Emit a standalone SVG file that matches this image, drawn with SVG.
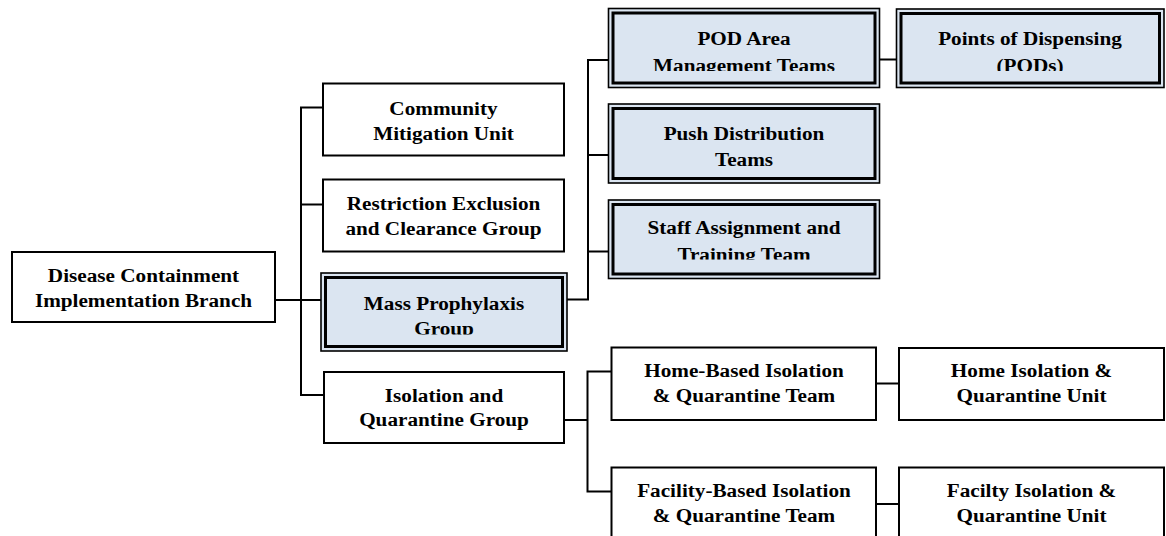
<svg xmlns="http://www.w3.org/2000/svg" width="1166" height="536" viewBox="0 0 1166 536">
<style>
.box{fill:#ffffff;stroke:#000000;stroke-width:2}
.dout{fill:#dbe5f1;stroke:#000000;stroke-width:1.6}
.din{fill:#dbe5f1;stroke:#000000;stroke-width:3}
.t{font-family:"Liberation Serif","Times New Roman",serif;font-weight:bold;font-size:18.67px;text-anchor:middle;fill:#000000}
.c{fill:none;stroke:#000000;stroke-width:2}
</style>
<defs>
<clipPath id="clipMass"><rect x="321" y="273" width="246" height="61.5"/></clipPath>
<clipPath id="clipPOD"><rect x="608" y="8" width="272" height="63"/></clipPath>
<clipPath id="clipPODs"><rect x="896" y="9" width="268" height="62"/></clipPath>
<clipPath id="clipStaff"><rect x="608" y="200" width="272" height="59.5"/></clipPath>
</defs>
<rect width="1166" height="536" fill="#ffffff"/>
<g id="connectors">
<polyline class="c" points="323,107.5 301,107.5 301,395 324,395"/>
<line class="c" x1="301" y1="204.5" x2="323" y2="204.5"/>
<line class="c" x1="275" y1="300" x2="321" y2="300"/>
<polyline class="c" points="608,60 588,60 588,299.5 567,299.5"/>
<line class="c" x1="588" y1="155" x2="608" y2="155"/>
<line class="c" x1="588" y1="251.5" x2="608" y2="251.5"/>
<line class="c" x1="879" y1="59.5" x2="896" y2="59.5"/>
<polyline class="c" points="611.5,371.5 587.5,371.5 587.5,491.5 611.5,491.5"/>
<line class="c" x1="564" y1="420" x2="587.5" y2="420"/>
<line class="c" x1="876" y1="383.5" x2="899" y2="383.5"/>
<line class="c" x1="876" y1="504" x2="899" y2="504"/>
</g>
<g id="root">
<rect class="box" x="12" y="252" width="263" height="70"/>
<text class="t" transform="translate(143.5 282) scale(1.135 1)">Disease Containment</text>
<text class="t" transform="translate(143.5 307) scale(1.135 1)">Implementation Branch</text>
</g>
<g id="community">
<rect class="box" x="323" y="83.5" width="241" height="72"/>
<text class="t" transform="translate(443.5 114.5) scale(1.135 1)">Community</text>
<text class="t" transform="translate(443.5 139.5) scale(1.135 1)">Mitigation Unit</text>
</g>
<g id="restriction">
<rect class="box" x="323" y="179.5" width="241" height="72"/>
<text class="t" transform="translate(443.5 209.5) scale(1.135 1)">Restriction Exclusion</text>
<text class="t" transform="translate(443.5 234.5) scale(1.135 1)">and Clearance Group</text>
</g>
<g id="mass">
<rect class="dout" x="321" y="273" width="246" height="78"/>
<rect class="din" x="325.5" y="277.5" width="237" height="69"/>
<g clip-path="url(#clipMass)">
<text class="t" transform="translate(444 309.5) scale(1.135 1)">Mass Prophylaxis</text>
<text class="t" transform="translate(444 335) scale(1.135 1)">Group</text>
</g>
</g>
<g id="isolation">
<rect class="box" x="324" y="372" width="240" height="71"/>
<text class="t" transform="translate(444 401.5) scale(1.135 1)">Isolation and</text>
<text class="t" transform="translate(444 426) scale(1.135 1)">Quarantine Group</text>
</g>
<g id="pod-area">
<rect class="dout" x="608.5" y="8.5" width="271" height="79"/>
<rect class="din" x="613" y="13" width="262" height="70"/>
<g clip-path="url(#clipPOD)">
<text class="t" transform="translate(744 45) scale(1.135 1)">POD Area</text>
<text class="t" transform="translate(744 71.5) scale(1.135 1)">Management Teams</text>
</g>
</g>
<g id="pods">
<rect class="dout" x="896.5" y="9" width="267.5" height="78.5"/>
<rect class="din" x="901" y="13.5" width="258.5" height="69.5"/>
<g clip-path="url(#clipPODs)">
<text class="t" transform="translate(1030 45) scale(1.135 1)">Points of Dispensing</text>
<text class="t" transform="translate(1030 71.5) scale(1.135 1)">(PODs)</text>
</g>
</g>
<g id="push">
<rect class="dout" x="608.5" y="104" width="271" height="79"/>
<rect class="din" x="613" y="108.5" width="262" height="70"/>
<text class="t" transform="translate(744 140) scale(1.135 1)">Push Distribution</text>
<text class="t" transform="translate(744 166) scale(1.135 1)">Teams</text>
</g>
<g id="staff">
<rect class="dout" x="608.5" y="200" width="271" height="78.5"/>
<rect class="din" x="613" y="204.5" width="262" height="69.5"/>
<g clip-path="url(#clipStaff)">
<text class="t" transform="translate(744 234) scale(1.135 1)">Staff Assignment and</text>
<text class="t" transform="translate(744 260.5) scale(1.135 1)">Training Team</text>
</g>
</g>
<g id="home-based">
<rect class="box" x="611.5" y="347.5" width="264.5" height="72.5"/>
<text class="t" transform="translate(744 376.5) scale(1.135 1)">Home-Based Isolation</text>
<text class="t" transform="translate(744 401.5) scale(1.135 1)">&amp; Quarantine Team</text>
</g>
<g id="home-unit">
<rect class="box" x="899" y="348" width="265" height="72"/>
<text class="t" transform="translate(1031.5 377) scale(1.135 1)">Home Isolation &amp;</text>
<text class="t" transform="translate(1031.5 402) scale(1.135 1)">Quarantine Unit</text>
</g>
<g id="facility-based">
<rect class="box" x="611.5" y="467.5" width="264.5" height="80"/>
<text class="t" transform="translate(744 497) scale(1.135 1)">Facility-Based Isolation</text>
<text class="t" transform="translate(744 522) scale(1.135 1)">&amp; Quarantine Team</text>
</g>
<g id="facility-unit">
<rect class="box" x="899" y="467.5" width="265" height="80"/>
<text class="t" transform="translate(1031.5 497) scale(1.135 1)">Facilty Isolation &amp;</text>
<text class="t" transform="translate(1031.5 522) scale(1.135 1)">Quarantine Unit</text>
</g>
</svg>
